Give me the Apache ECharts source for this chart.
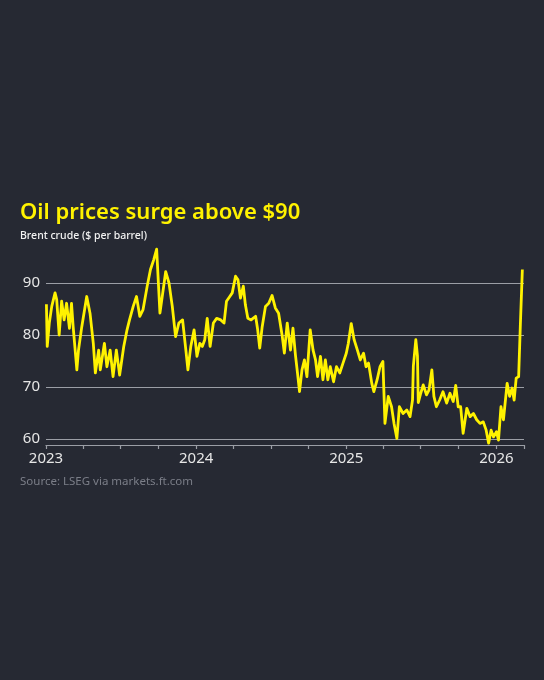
<!DOCTYPE html>
<html>
<head>
<meta charset="utf-8">
<script src="https://cdn.jsdelivr.net/npm/echarts@6/dist/echarts.min.js"></script>
<style>
  html, body { margin: 0; padding: 0; background: #262933; }
  #chart { width: 544px; height: 680px; }
</style>
</head>
<body>
<div id="chart"></div>
<script>
// Brent crude, $ per barrel
var dates = [
  '2023-01-02','2023-01-04','2023-01-09','2023-01-15','2023-01-23','2023-01-27','2023-02-02','2023-02-08',
  '2023-02-14','2023-02-20','2023-02-27','2023-03-04','2023-03-08','2023-03-17','2023-03-21','2023-03-29',
  '2023-04-10','2023-04-18','2023-04-26','2023-05-01','2023-05-09','2023-05-13','2023-05-23','2023-05-29',
  '2023-06-06','2023-06-13','2023-06-21','2023-06-29','2023-07-09','2023-07-17','2023-07-23','2023-08-01',
  '2023-08-09','2023-08-17','2023-08-25','2023-09-04','2023-09-12','2023-09-20','2023-09-27','2023-10-05',
  '2023-10-19','2023-10-27','2023-11-04','2023-11-12','2023-11-20','2023-11-29','2023-12-07','2023-12-12',
  '2023-12-19','2023-12-27',
  '2024-01-03','2024-01-10','2024-01-16','2024-01-22','2024-01-28','2024-02-04','2024-02-12','2024-02-20',
  '2024-03-01','2024-03-09','2024-03-15','2024-03-23','2024-03-29','2024-04-06','2024-04-12','2024-04-18',
  '2024-04-25','2024-04-30','2024-05-06','2024-05-14','2024-05-25','2024-05-30','2024-06-04','2024-06-10',
  '2024-06-18','2024-06-26','2024-07-04','2024-07-12','2024-07-20','2024-07-29','2024-08-03','2024-08-10',
  '2024-08-18','2024-08-24','2024-08-30','2024-09-04','2024-09-09','2024-09-15','2024-09-21','2024-09-27',
  '2024-10-05','2024-10-12','2024-10-18','2024-10-23','2024-10-30','2024-11-05','2024-11-11','2024-11-17',
  '2024-11-23','2024-12-01','2024-12-08','2024-12-16','2024-12-24',
  '2025-01-01','2025-01-06','2025-01-13','2025-01-20','2025-01-28','2025-02-04','2025-02-12','2025-02-18',
  '2025-02-24','2025-03-04','2025-03-09','2025-03-17','2025-03-24','2025-03-31','2025-04-05','2025-04-13',
  '2025-04-21','2025-04-27','2025-05-04','2025-05-10','2025-05-19','2025-05-28','2025-06-05','2025-06-11',
  '2025-06-13','2025-06-19','2025-06-23','2025-06-25','2025-07-01','2025-07-07','2025-07-15','2025-07-21',
  '2025-07-28','2025-08-02','2025-08-08','2025-08-16','2025-08-24','2025-09-02','2025-09-10','2025-09-18',
  '2025-09-24','2025-09-30','2025-10-06','2025-10-12','2025-10-21','2025-10-29','2025-11-06','2025-11-14',
  '2025-11-22','2025-11-30','2025-12-07','2025-12-13','2025-12-19','2025-12-25',
  '2026-01-01','2026-01-06','2026-01-12','2026-01-18','2026-01-27','2026-02-02','2026-02-08','2026-02-13',
  '2026-02-18','2026-02-24','2026-02-28','2026-03-05'
];
var brent = [
  85.9, 77.8, 82.3, 85.5, 88.1, 86.8, 80.0, 86.5,
  82.9, 86.1, 81.3, 86.1, 81.6, 73.3, 77.1, 81.6,
  87.4, 84.2, 78.4, 72.7, 77.1, 73.3, 78.4, 73.9,
  77.1, 72.0, 77.1, 72.3, 77.8, 81.0, 82.9, 85.5,
  87.4, 83.6, 84.9, 89.4, 92.6, 94.5, 96.5, 84.2,
  92.2, 90.0, 85.5, 79.7, 82.3, 82.9, 77.1, 73.3,
  77.8, 81.0,
  75.9, 78.4, 77.8, 79.1, 83.2, 77.8, 82.3, 83.2,
  82.9, 82.3, 86.5, 87.4, 88.1, 91.3, 90.6, 87.1,
  89.4, 85.8, 83.2, 82.9, 83.6, 81.0, 77.5, 81.6,
  85.5, 86.1, 87.6, 85.2, 84.2, 79.7, 76.5, 82.3,
  77.1, 81.3, 76.2, 72.7, 69.1, 73.3, 75.2, 72.0,
  81.0, 77.1, 75.2, 72.0, 75.9, 71.4, 75.2, 71.4,
  73.9, 71.0, 73.9, 72.7, 74.6,
  76.5, 78.4, 82.2, 79.1, 77.1, 75.2, 76.5, 73.9,
  74.6, 70.7, 69.1, 71.4, 73.9, 74.9, 63.0, 68.2,
  66.2, 63.0, 60.1, 66.2, 64.9, 65.6, 64.3, 67.5,
  74.0, 79.1, 76.0, 67.0, 68.8, 70.4, 68.5, 69.4,
  73.3, 68.2, 66.2, 67.5, 69.1, 66.9, 68.8, 67.2,
  70.3, 66.2, 66.2, 61.1, 65.9, 64.3, 64.9, 63.7,
  63.0, 63.3, 61.7, 59.2, 61.7, 60.4,
  61.4, 59.8, 66.2, 63.7, 70.7, 68.2, 69.8, 67.5,
  71.7, 72.0, 81.6, 92.6
];
var yearLabels = [2023, 2024, 2025, 2026];
var priceTicks = [60, 70, 80, 90];
var axisEnd = '2026-03-09';

// date string -> fractional year, so the value axis spaces days evenly
function yearFrac(s) {
    var p = s.split('-').map(Number);
    var start = Date.UTC(p[0], 0, 1), end = Date.UTC(p[0] + 1, 0, 1);
    return p[0] + (Date.UTC(p[0], p[1] - 1, p[2]) - start) / (end - start);
}

var points = dates.map(function (d, i) { return [yearFrac(d), brent[i]]; });
var xMax = yearFrac(axisEnd);
var quarterTicks = [];
yearLabels.forEach(function (y) {
    ['-01-01', '-04-01', '-07-01', '-10-01'].forEach(function (q) {
        var v = yearFrac(y + q);
        if (v <= xMax) quarterTicks.push(v);
    });
});
quarterTicks.push(xMax);

var yellow = '#fff200';
var grey = '#9b9ea6';

var chart = echarts.init(document.getElementById('chart'));
chart.setOption({
    backgroundColor: '#262933',
    title: [
        {
            text: 'Oil prices surge above $90',
            left: 20, top: 202, padding: 0,
            textStyle: { color: yellow, fontSize: 22, fontWeight: 600, fontFamily: 'Noto Sans' }
        },
        {
            text: 'Brent crude ($ per barrel)',
            left: 20, top: 231, padding: 0,
            textStyle: { color: '#f2f2f2', fontSize: 10.5, fontWeight: 500, fontFamily: 'Noto Sans' }
        },
        {
            text: 'Source: LSEG via markets.ft.com',
            left: 20, top: 476, padding: 0,
            textStyle: { color: '#7b7e88', fontSize: 11.5, fontWeight: 'normal', fontFamily: 'Noto Sans' }
        }
    ],
    grid: { left: 46, right: 20, top: 283, bottom: 241, containLabel: false },
    xAxis: {
        type: 'value',
        min: 2023,
        max: xMax,
        offset: 6,
        splitLine: { show: false },
        axisLine: { show: true, lineStyle: { color: grey, width: 1.2 } },
        axisTick: {
            show: true, length: 4, inside: false,
            customValues: quarterTicks,
            lineStyle: { color: grey, width: 1.2 }
        },
        axisLabel: {
            customValues: yearLabels,
            formatter: function (v) { return String(Math.round(v)); },
            color: '#e6e6e6', fontSize: 15, fontFamily: 'Noto Sans', margin: 6
        }
    },
    yAxis: {
        type: 'value',
        min: 60,
        max: 90,
        interval: 10,
        axisLine: { show: false },
        axisTick: { show: false },
        axisLabel: {
            customValues: priceTicks,
            color: '#e6e6e6', fontSize: 15, fontFamily: 'Noto Sans', margin: 6
        },
        splitLine: { show: true, lineStyle: { color: grey, width: 1.2 } }
    },
    series: [{
        type: 'line',
        data: points,
        showSymbol: false,
        clip: false,
        lineStyle: { color: yellow, width: 2.8, join: 'round' },
        animation: false
    }]
});
</script>
</body>
</html>
